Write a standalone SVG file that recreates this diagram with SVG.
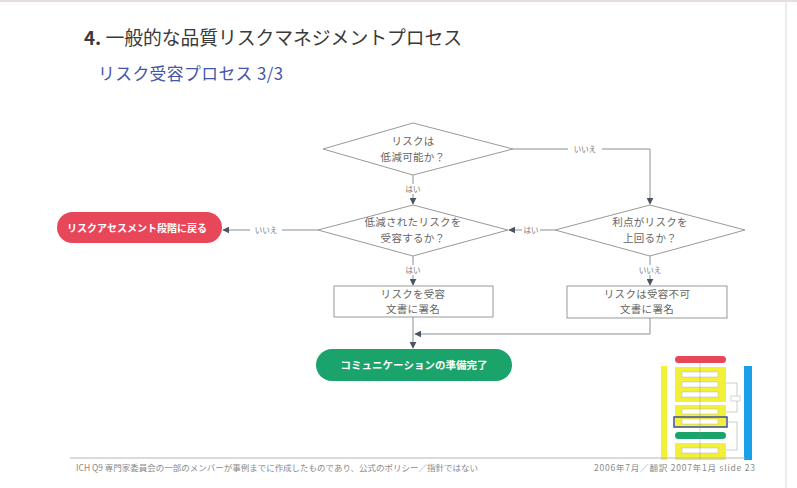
<svg xmlns="http://www.w3.org/2000/svg" width="797" height="488" viewBox="0 0 797 488">
<defs>
<style>
.jp{font-family:"Noto Sans CJK JP","Noto Sans",sans-serif}
.dtext{font-family:"Noto Sans CJK JP",sans-serif;font-size:10.5px;fill:#666;text-anchor:middle;letter-spacing:0.3px}
.lbl{font-family:"Noto Sans CJK JP",sans-serif;font-size:7.5px;fill:#777;text-anchor:middle}
.shape{fill:#fff;stroke:#999;stroke-width:1}
.conn{fill:none;stroke:#8a8f95;stroke-width:1}
.term{font-family:"Noto Sans CJK JP",sans-serif;font-weight:bold;fill:#fff;text-anchor:middle}
.foot{font-family:"Noto Sans CJK JP",sans-serif;font-size:8.5px;fill:#8a8a8a}
</style>
<marker id="arr" viewBox="0 0 10 10" refX="9" refY="5" markerWidth="7" markerHeight="7" orient="auto" markerUnits="userSpaceOnUse">
<path d="M0,0 L10,5 L0,10 z" fill="#4a5560"/>
</marker>
</defs>
<rect width="797" height="488" fill="#fff"/>
<line x1="786" y1="0" x2="786" y2="488" stroke="#d8d8d8" stroke-width="1"/>
<line x1="0" y1="1" x2="797" y2="1" stroke="#e6dde0" stroke-width="2"/>

<text x="84" y="45" class="jp" font-size="18.8" fill="#3a3a3a" textLength="378" lengthAdjust="spacing"><tspan font-weight="bold">4.</tspan> 一般的な品質リスクマネジメントプロセス</text>
<text x="98" y="80" class="jp" font-size="16.8" fill="#4456aa" textLength="185" lengthAdjust="spacing">リスク受容プロセス 3/3</text>

<g id="connectors">
<path class="conn" d="M513,149 H650 V204" marker-end="url(#arr)"/>
<path class="conn" d="M413,175 V204" marker-end="url(#arr)"/>
<path class="conn" d="M555,230 H509" marker-end="url(#arr)"/>
<path class="conn" d="M318,230 H223" marker-end="url(#arr)"/>
<path class="conn" d="M413,256 V285" marker-end="url(#arr)"/>
<path class="conn" d="M650,256 V285" marker-end="url(#arr)"/>
<path class="conn" d="M413,317 V348" marker-end="url(#arr)"/>
<path class="conn" d="M650,318 V334 H415" marker-end="url(#arr)"/>
<rect x="568" y="144" width="34" height="10" fill="#fff"/>
<text x="585" y="152" class="lbl">いいえ</text>
<rect x="403" y="184" width="20" height="10" fill="#fff"/>
<text x="413" y="192" class="lbl">はい</text>
<rect x="522" y="225" width="18" height="10" fill="#fff"/>
<text x="531" y="233" class="lbl">はい</text>
<rect x="250" y="225" width="32" height="10" fill="#fff"/>
<text x="266" y="233" class="lbl">いいえ</text>
<rect x="403" y="265" width="20" height="10" fill="#fff"/>
<text x="413" y="273" class="lbl">はい</text>
<rect x="634" y="265" width="32" height="10" fill="#fff"/>
<text x="650" y="273" class="lbl">いいえ</text>
</g>

<g id="d1">
<polygon class="shape" points="413,123 513,149 413,175 323,149"/>
<text x="413" y="145" class="dtext">リスクは</text>
<text x="413" y="161" class="dtext">低減可能か？</text>
</g>
<g id="d2">
<polygon class="shape" points="413,205 508,230 413,256 318,230"/>
<text x="413" y="226" class="dtext">低減されたリスクを</text>
<text x="413" y="242" class="dtext">受容するか？</text>
</g>
<g id="d3">
<polygon class="shape" points="650,205 745,230 650,256 555,230"/>
<text x="650" y="226" class="dtext">利点がリスクを</text>
<text x="650" y="242" class="dtext">上回るか？</text>
</g>
<g id="back">
<rect x="57" y="212" width="165" height="31" rx="15.5" fill="#e8475a"/>
<text x="137" y="231.5" class="term" font-size="10">リスクアセスメント段階に戻る</text>
</g>
<g id="accept">
<rect class="shape" x="334" y="286" width="159" height="31"/>
<text x="413" y="298" class="dtext">リスクを受容</text>
<text x="413" y="313" class="dtext">文書に署名</text>
</g>
<g id="reject">
<rect class="shape" x="567" y="286" width="160" height="32"/>
<text x="647" y="298" class="dtext">リスクは受容不可</text>
<text x="647" y="313" class="dtext">文書に署名</text>
</g>
<g id="comm">
<rect x="316" y="349" width="196" height="32" rx="16" fill="#1aa36a"/>
<text x="414" y="369" class="term" font-size="10.5">コミュニケーションの準備完了</text>
</g>

<g id="thumbnail">
<rect x="661" y="366" width="6" height="94" fill="#f3f03a"/>
<rect x="744" y="366" width="8" height="94" fill="#1aa0e8"/>
<rect x="675" y="356" width="51" height="7" rx="3.5" fill="#e8475a"/>
<rect x="675" y="367" width="51" height="35" fill="#f3f03a"/>
<rect x="682" y="372" width="36" height="5" fill="#fff" stroke="#aaa" stroke-width="0.4"/>
<rect x="682" y="382" width="36" height="5" fill="#fff" stroke="#aaa" stroke-width="0.4"/>
<rect x="682" y="392" width="36" height="5" fill="#fff" stroke="#aaa" stroke-width="0.4"/>
<rect x="675" y="405" width="51" height="22" fill="#f3f03a"/>
<rect x="682" y="409" width="36" height="5" fill="#fff" stroke="#aaa" stroke-width="0.4"/>
<rect x="674" y="417" width="53" height="10" fill="none" stroke="#3a4fa0" stroke-width="1.5"/>
<rect x="682" y="419" width="36" height="5" fill="#fff" stroke="#aaa" stroke-width="0.4"/>
<rect x="675" y="432" width="51" height="7" rx="3.5" fill="#1aa36a"/>
<rect x="675" y="443" width="51" height="17" fill="#f3f03a"/>
<rect x="682" y="448" width="36" height="5" fill="#fff" stroke="#aaa" stroke-width="0.4"/>
<path d="M726,383 H737 V412 H726 M726,422 H737 V450 H726" fill="none" stroke="#999" stroke-width="0.5"/>
<rect x="731" y="396" width="9" height="5" fill="#fff" stroke="#999" stroke-width="0.4"/>
<path d="M700,363 V460" stroke="#888" stroke-width="0.4"/>
</g>

<line x1="70" y1="458" x2="745" y2="458" stroke="#b8b8b8" stroke-width="1.2"/>
<text x="76" y="471" class="foot" textLength="402" lengthAdjust="spacing">ICH Q9 専門家委員会の一部のメンバーが事例までに作成したものであり、公式のポリシー／指針ではない</text>
<text x="594" y="471" class="foot" textLength="161" lengthAdjust="spacing">2006年7月／翻訳 2007年1月 slide 23</text>
</svg>
